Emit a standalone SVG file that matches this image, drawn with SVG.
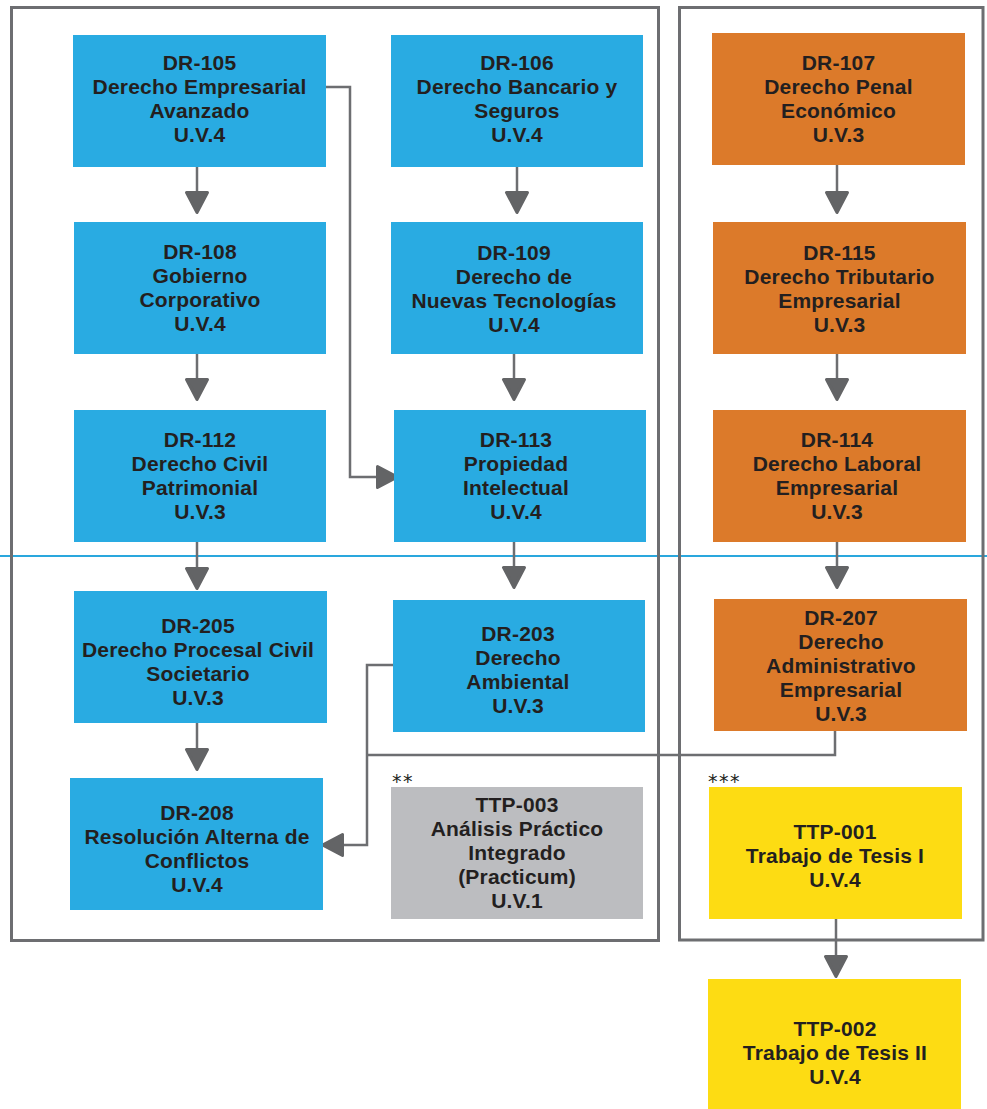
<svg xmlns="http://www.w3.org/2000/svg" width="987" height="1109" viewBox="0 0 987 1109">
<style>
.bg{fill:#ffffff}
.blue{fill:#29abe2}
.orange{fill:#dc7a2a}
.gray{fill:#bcbdc0}
.yellow{fill:#fddc13}
.frame{fill:none;stroke:#6d6e71;stroke-width:3}
.sep{stroke:#2aa7dd;stroke-width:2;fill:none}
.conn{fill:none;stroke:#6d6e71;stroke-width:2.5}
.arr{marker-end:url(#ah)}
text{font-family:"Liberation Sans",Arial,sans-serif;font-weight:700;font-size:21px;fill:#231f20;text-anchor:middle;letter-spacing:0.2px}
text.ast{font-family:"DejaVu Sans","Liberation Sans",sans-serif;font-weight:400;font-size:19px;text-anchor:start;letter-spacing:1.5px}
</style>
<defs>
<marker id="ah" markerUnits="userSpaceOnUse" viewBox="0 -13 24 26" markerWidth="24" markerHeight="26" refX="0" refY="0" orient="auto" overflow="visible">
<path d="M1.5,-10.5 L21.5,0 L1.5,10.5 Z" fill="#636466" stroke="#636466" stroke-width="3" stroke-linejoin="round"/>
</marker>
</defs>
<rect class="bg" x="0" y="0" width="987" height="1109"/>
<path class="sep" d="M0,556 H987"/>
<rect class="frame" x="11.5" y="7.5" width="647" height="933"/>
<rect class="frame" x="679.5" y="7.5" width="303.5" height="932.5"/>

<g id="connectors">
<path class="conn arr" d="M197,167 V191"/>
<path class="conn arr" d="M517,167 V191"/>
<path class="conn arr" d="M197,354 V378"/>
<path class="conn arr" d="M514,354 V378"/>
<path class="conn arr" d="M197,542 V567"/>
<path class="conn arr" d="M514,542 V566"/>
<path class="conn arr" d="M197,723 V748"/>
<path class="conn arr" d="M837,165 V191"/>
<path class="conn arr" d="M837,354 V378"/>
<path class="conn arr" d="M837,542 V566"/>
<path class="conn arr" d="M836,919 V955"/>
<path class="conn arr" d="M326,87 H350 V477 H376"/>
<path class="conn arr" d="M393,665 H367 V845 H344"/>
<path class="conn" d="M835,731 V755 H367"/>
</g>

<g id="DR-105"><rect class="blue" x="73" y="35" width="253" height="132"/>
<text x="199.5" y="70">DR-105<tspan x="199.5" dy="24">Derecho Empresarial</tspan><tspan x="199.5" dy="24">Avanzado</tspan><tspan x="199.5" dy="24">U.V.4</tspan></text></g>
<g id="DR-106"><rect class="blue" x="391" y="35" width="252" height="132"/>
<text x="517" y="70">DR-106<tspan x="517" dy="24">Derecho Bancario y</tspan><tspan x="517" dy="24">Seguros</tspan><tspan x="517" dy="24">U.V.4</tspan></text></g>
<g id="DR-107"><rect class="orange" x="712" y="33" width="253" height="132"/>
<text x="838.5" y="70">DR-107<tspan x="838.5" dy="24">Derecho Penal</tspan><tspan x="838.5" dy="24">Económico</tspan><tspan x="838.5" dy="24">U.V.3</tspan></text></g>

<g id="DR-108"><rect class="blue" x="74" y="222" width="252" height="132"/>
<text x="200" y="259">DR-108<tspan x="200" dy="24">Gobierno</tspan><tspan x="200" dy="24">Corporativo</tspan><tspan x="200" dy="24">U.V.4</tspan></text></g>
<g id="DR-109"><rect class="blue" x="391" y="222" width="252" height="132"/>
<text x="514" y="260">DR-109<tspan x="514" dy="24">Derecho de</tspan><tspan x="514" dy="24">Nuevas Tecnologías</tspan><tspan x="514" dy="24">U.V.4</tspan></text></g>
<g id="DR-115"><rect class="orange" x="713" y="222" width="253" height="132"/>
<text x="839.5" y="260">DR-115<tspan x="839.5" dy="24">Derecho Tributario</tspan><tspan x="839.5" dy="24">Empresarial</tspan><tspan x="839.5" dy="24">U.V.3</tspan></text></g>

<g id="DR-112"><rect class="blue" x="74" y="410" width="252" height="132"/>
<text x="200" y="447">DR-112<tspan x="200" dy="24">Derecho Civil</tspan><tspan x="200" dy="24">Patrimonial</tspan><tspan x="200" dy="24">U.V.3</tspan></text></g>
<g id="DR-113"><rect class="blue" x="394" y="410" width="252" height="132"/>
<text x="516" y="447">DR-113<tspan x="516" dy="24">Propiedad</tspan><tspan x="516" dy="24">Intelectual</tspan><tspan x="516" dy="24">U.V.4</tspan></text></g>
<g id="DR-114"><rect class="orange" x="713" y="410" width="253" height="132"/>
<text x="837" y="447">DR-114<tspan x="837" dy="24">Derecho Laboral</tspan><tspan x="837" dy="24">Empresarial</tspan><tspan x="837" dy="24">U.V.3</tspan></text></g>

<g id="DR-205"><rect class="blue" x="74" y="591" width="253" height="132"/>
<text x="198" y="633">DR-205<tspan x="198" dy="24">Derecho Procesal Civil</tspan><tspan x="198" dy="24">Societario</tspan><tspan x="198" dy="24">U.V.3</tspan></text></g>
<g id="DR-203"><rect class="blue" x="393" y="600" width="252" height="132"/>
<text x="518" y="641">DR-203<tspan x="518" dy="24">Derecho</tspan><tspan x="518" dy="24">Ambiental</tspan><tspan x="518" dy="24">U.V.3</tspan></text></g>
<g id="DR-207"><rect class="orange" x="714" y="599" width="253" height="132"/>
<text x="841" y="625">DR-207<tspan x="841" dy="24">Derecho</tspan><tspan x="841" dy="24">Administrativo</tspan><tspan x="841" dy="24">Empresarial</tspan><tspan x="841" dy="24">U.V.3</tspan></text></g>

<g id="DR-208"><rect class="blue" x="70" y="778" width="253" height="132"/>
<text x="197" y="820">DR-208<tspan x="197" dy="24">Resolución Alterna de</tspan><tspan x="197" dy="24">Conflictos</tspan><tspan x="197" dy="24">U.V.4</tspan></text></g>
<g id="TTP-003"><rect class="gray" x="391" y="787" width="252" height="132"/><text class="ast" x="392" y="788">**</text>
<text x="517" y="812">TTP-003<tspan x="517" dy="24">Análisis Práctico</tspan><tspan x="517" dy="24">Integrado</tspan><tspan x="517" dy="24">(Practicum)</tspan><tspan x="517" dy="24">U.V.1</tspan></text></g>
<g id="TTP-001"><rect class="yellow" x="709" y="787" width="253" height="132"/><text class="ast" x="708" y="788">***</text>
<text x="835" y="839">TTP-001<tspan x="835" dy="24">Trabajo de Tesis I</tspan><tspan x="835" dy="24">U.V.4</tspan></text></g>
<g id="TTP-002"><rect class="yellow" x="708" y="979" width="253" height="130"/>
<text x="835" y="1036">TTP-002<tspan x="835" dy="24">Trabajo de Tesis II</tspan><tspan x="835" dy="24">U.V.4</tspan></text></g>
</svg>
